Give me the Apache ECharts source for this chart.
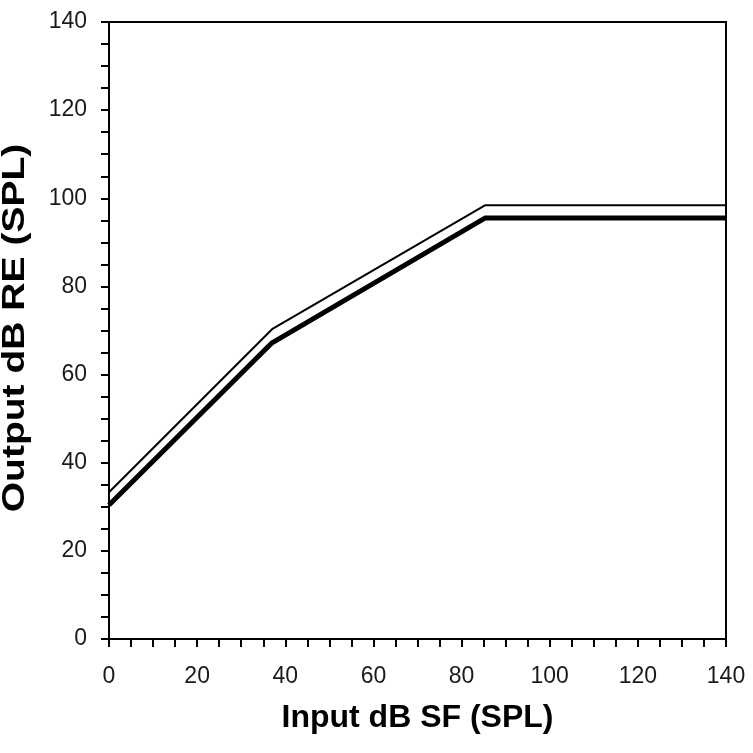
<!DOCTYPE html>
<html><head><meta charset="utf-8">
<script src="https://cdn.jsdelivr.net/npm/echarts@6/dist/echarts.min.js"></script>
<style>html,body{margin:0;padding:0;background:#fff}#c{width:753px;height:753px}</style>
</head><body><div id="c"></div>
<script>
const xTicks = [0, 20, 40, 60, 80, 100, 120, 140];
const yTicks = [0, 20, 40, 60, 80, 100, 120, 140];
const upperLine = [[0, 33.3], [37, 70.3], [85.3, 98.4], [140, 98.4]];
const lowerLine = [[0, 30.4], [37, 67.2], [85.3, 95.5], [140, 95.5]];
const xTitle = 'Input dB SF (SPL)';
const yTitle = 'Output dB RE (SPL)';

const chart = echarts.init(document.getElementById('c'));
const FF = 'Liberation Sans, Arial, sans-serif';
const lbl = {color: '#1a1a1a', fontFamily: FF, fontSize: 23};
const tick = {show: true, length: 8, inside: false, lineStyle: {color: '#000', width: 2}};
chart.setOption({
  animation: false,
  grid: {left: 109, top: 22, right: 27, bottom: 114, show: true, borderColor: '#000', borderWidth: 2},
  xAxis: {
    type: 'value', min: xTicks[0], max: xTicks[xTicks.length - 1], interval: xTicks[1] - xTicks[0],
    axisLine: {show: true, lineStyle: {color: '#000', width: 2}},
    axisTick: tick,
    minorTick: {show: true, splitNumber: 4, length: 8, lineStyle: {color: '#000', width: 2}},
    splitLine: {show: false},
    axisLabel: Object.assign({margin: 26}, lbl),
    name: xTitle, nameLocation: 'middle', nameGap: 79,
    nameTextStyle: {color: '#000', fontFamily: FF, fontSize: 32, fontWeight: 'bold', verticalAlign: 'middle'}
  },
  yAxis: {
    type: 'value', min: yTicks[0], max: yTicks[yTicks.length - 1], interval: yTicks[1] - yTicks[0],
    axisLine: {show: true, lineStyle: {color: '#000', width: 2}},
    axisTick: tick,
    minorTick: {show: true, splitNumber: 4, length: 8, lineStyle: {color: '#000', width: 2}},
    splitLine: {show: false},
    axisLabel: Object.assign({margin: 22}, lbl)
  },
  graphic: [{
    type: 'text', x: 15, y: 328, rotation: Math.PI / 2, scaleX: 1.22,
    style: {text: yTitle, fill: '#000', font: 'bold 32px ' + FF, textAlign: 'center', textVerticalAlign: 'middle'}
  }],
  series: [
    {type: 'line', data: upperLine, symbol: 'none', lineStyle: {color: '#000', width: 2}},
    {type: 'line', data: lowerLine, symbol: 'none', lineStyle: {color: '#000', width: 5}}
  ]
});
</script></body></html>
